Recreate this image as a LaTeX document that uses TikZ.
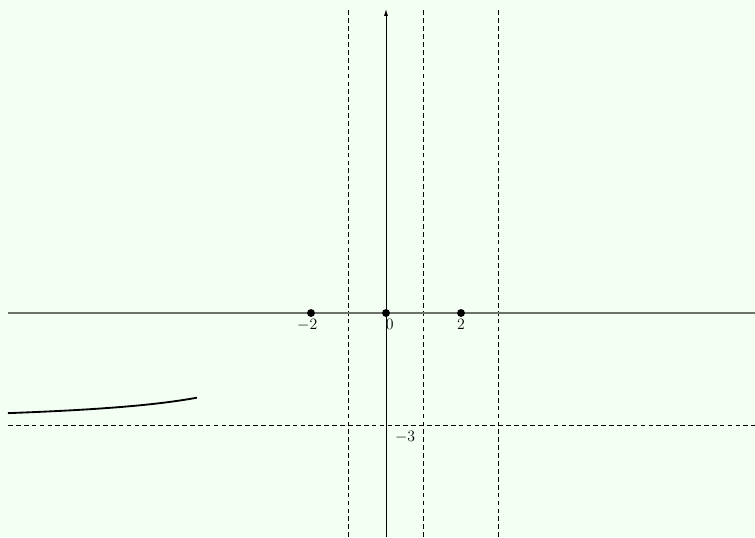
\documentclass[tikz,border=0pt]{standalone}
\usepackage{tikz}
\usetikzlibrary{positioning,arrows.meta}
\definecolor{bgGreen}{HTML}{F4FFF4}
\definecolor{axisGray}{HTML}{6B736B}

\begin{document}
\begin{tikzpicture}[
  dotpt/.style={circle, fill=black, inner sep=0pt, minimum size=6pt},
  asym/.style={dash pattern=on 3.6pt off 2.4pt, line width=0.6pt},
  ticklab/.style={anchor=north, inner sep=2pt, font=\large},
]
  % frame and background
  \fill[bgGreen] (-10.293,-5.973) rectangle (9.84,8.347);
  \useasboundingbox (-10.293,-5.973) rectangle (9.84,8.347);

  % asymptotes
  \draw[asym] (-1,-5.973) -- (-1,8.08);
  \draw[asym] (1,-5.973) -- (1,8.08);
  \draw[asym] (3,-5.973) -- (3,8.08);
  \draw[asym] (-10.08,-3) -- (9.84,-3);

  % axes
  \draw[axisGray, line width=0.8pt] (-10.08,0) -- (9.84,0);
  \draw[line width=0.5pt, -{Latex[length=5pt,width=3pt]}] (0,-5.973) -- (0,8.1);

  % branch of the curve
  \draw[line width=1.4pt, domain=-10.08:-5.04, samples=60, smooth] plot (\x, {-3-3/(\x+1)});

  % marked points
  \node[dotpt] (ptm) at (-2,0) {};
  \node[dotpt] (pto) at (0,0) {};
  \node[dotpt] (ptp) at (2,0) {};

  % tick labels
  \node[ticklab] (labm) at (-2.1,-0.08) {$-2$};
  \node[ticklab] (labo) at (0.1,-0.08) {$0$};
  \node[ticklab] (labp) at (2,-0.08) {$2$};
  \node[anchor=north west, font=\large] (labm3) at (0.12,-3.03) {$-3$};
\end{tikzpicture}
\end{document}
